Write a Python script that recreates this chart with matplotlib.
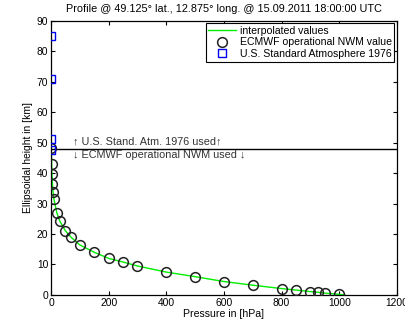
import matplotlib
matplotlib.use("Agg")
import matplotlib.pyplot as plt

plt.rcParams['font.family'] = ['Liberation Sans', 'DejaVu Sans']

# ECMWF operational NWM pressure levels [hPa] and their heights [km]
ecmwf_p = [1, 2, 3, 5, 7, 10, 20, 30, 50, 70, 100, 150, 200, 250, 300,
           400, 500, 600, 700, 800, 850, 900, 925, 950, 1000]
ecmwf_h = [48.3, 43.1, 39.6, 36.3, 33.9, 31.5, 27.0, 24.3, 21.0, 18.9,
           16.4, 14.0, 12.0, 10.8, 9.5, 7.5, 6.0, 4.4, 3.2, 2.1, 1.6,
           1.1, 0.9, 0.6, 0.2]

# U.S. Standard Atmosphere 1976 values above the NWM top
std_p = [1.1, 0.67, 0.04, 0.004]
std_h = [47.5, 51.2, 71.0, 84.9]

# interpolated profile from the surface up to 90 km
interp_p = [1020, 1000, 950, 925, 900, 850, 800, 700, 600, 500, 400, 300,
            250, 200, 150, 100, 70, 50, 30, 20, 10, 7, 5, 3, 2, 1.1, 0.67,
            0.04, 0.004, 0.002]
interp_h = [0.0, 0.2, 0.6, 0.9, 1.1, 1.6, 2.1, 3.2, 4.4, 6.0, 7.5, 9.5,
            10.8, 12.0, 14.0, 16.4, 18.9, 21.0, 24.3, 27.0, 31.5, 33.9,
            36.3, 39.6, 43.1, 47.5, 51.2, 71.0, 84.9, 90.0]

switch_height = 48.0

fig = plt.figure(figsize=(4.05, 3.22), dpi=100)
ax = fig.add_axes([0.126, 0.084, 0.854, 0.852])

ax.plot(interp_p, interp_h, color='#00ee00', lw=1.0, label='interpolated values', zorder=2)
ax.plot(ecmwf_p, ecmwf_h, 'o', ms=7, mfc='none', mec='#222222', mew=1.1,
        label='ECMWF operational NWM value', zorder=3)
ax.plot(std_p, std_h, 's', ms=5.5, mfc='none', mec='#0000ee', mew=1.0,
        label='U.S. Standard Atmosphere 1976', zorder=3)

ax.axhline(switch_height, color='black', lw=1.0, zorder=1)
ax.text(75, 50.4, '\u2191 U.S. Stand. Atm. 1976 used\u2191', fontsize=7.8,
        color='#333333', va='center', ha='left')
ax.text(75, 45.8, '\u2193 ECMWF operational NWM used \u2193', fontsize=7.8,
        color='#333333', va='center', ha='left')

ax.set_xlim(0, 1200)
ax.set_ylim(0, 90)
ax.set_xticks([0, 200, 400, 600, 800, 1000, 1200])
ax.set_yticks([0, 10, 20, 30, 40, 50, 60, 70, 80, 90])
ax.tick_params(direction='in', top=True, right=True, labelsize=7.4,
               length=3, width=0.8, pad=2)
for s in ax.spines.values():
    s.set_linewidth(0.9)

ax.set_title('Profile @ 49.125\u00b0 lat., 12.875\u00b0 long. @ 15.09.2011 18:00:00 UTC',
             fontsize=7.8, pad=6)
ax.set_xlabel('Pressure in [hPa]', fontsize=7.6, labelpad=1)
ax.set_ylabel('Ellipsoidal height in [km]', fontsize=7.4, labelpad=3)

leg = ax.legend(loc='upper right', fontsize=7.6, frameon=True, fancybox=False,
                edgecolor='black', framealpha=1, borderaxespad=0.25,
                handlelength=2.6, handletextpad=0.35, borderpad=0.25,
                labelspacing=0.15)
leg.get_frame().set_linewidth(0.8)

fig.savefig('out.png', dpi=100)
